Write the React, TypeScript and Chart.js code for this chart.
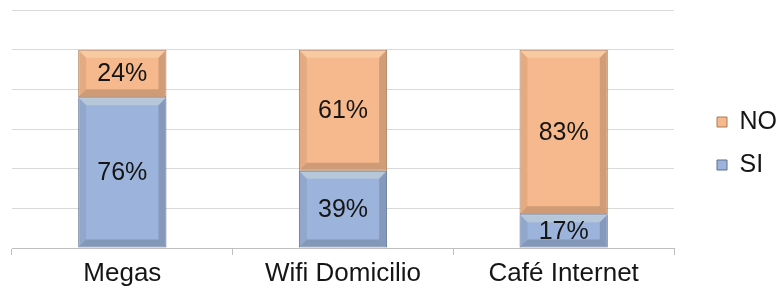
import React, { useEffect, useRef } from 'react';
import { Chart, registerables } from 'chart.js';

Chart.register(...registerables);

const categories = ['Megas', 'Wifi Domicilio', 'Café Internet'];
const siValues = [76, 39, 17];
const noValues = [24, 61, 83];
const seriesNames = ['SI', 'NO'];
const yTickValues = [0, 20, 40, 60, 80, 100, 120];

const FONT = '"Liberation Sans", Arial, sans-serif';

const bevelAndLabels = {
  id: 'bevelAndLabels',
  afterDatasetsDraw(chart: any) {
    const ctx = chart.ctx;
    ctx.save();
    chart.data.datasets.forEach((ds: any, di: number) => {
      const meta = chart.getDatasetMeta(di);
      meta.data.forEach((bar: any) => {
        const { x, y, base, width } = bar.getProps(['x', 'y', 'base', 'width'], true);
        const l = x - width / 2 + 1;
        const r = x + width / 2 - 1;
        const t = Math.min(y, base) + 1;
        const bt = Math.max(y, base) - 1;
        const b = Math.min(7, (bt - t) / 2);
        const poly = (pts: number[][], fill: string) => {
          ctx.beginPath();
          ctx.moveTo(pts[0][0], pts[0][1]);
          for (let k = 1; k < pts.length; k++) ctx.lineTo(pts[k][0], pts[k][1]);
          ctx.closePath();
          ctx.fillStyle = fill;
          ctx.fill();
        };
        poly([[l, t], [r, t], [r - b, t + b], [l + b, t + b]], 'rgba(255,248,215,0.28)');
        poly([[l, t], [l + b, t + b], [l + b, bt - b], [l, bt]], 'rgba(0,0,0,0.07)');
        poly([[r, t], [r, bt], [r - b, bt - b], [r - b, t + b]], 'rgba(0,0,0,0.15)');
        poly([[l, bt], [r, bt], [r - b, bt - b], [l + b, bt - b]], 'rgba(0,0,0,0.16)');
      });
    });
    ctx.font = `25px ${FONT}`;
    ctx.fillStyle = '#151515';
    ctx.textAlign = 'center';
    ctx.textBaseline = 'middle';
    chart.data.datasets.forEach((ds: any, di: number) => {
      const meta = chart.getDatasetMeta(di);
      meta.data.forEach((bar: any, i: number) => {
        const { x, y, base } = bar.getProps(['x', 'y', 'base'], true);
        ctx.fillText(`${ds.data[i]}%`, x, (y + base) / 2 + 1);
      });
    });
    ctx.restore();
  },
};

export default function App() {
  const ref = useRef<HTMLCanvasElement | null>(null);
  useEffect(() => {
    if (!ref.current) return;
    const chart = new Chart(ref.current, {
      type: 'bar',
      data: {
        labels: categories,
        datasets: [
          {
            label: seriesNames[0],
            data: siValues,
            backgroundColor: '#9cb4dc',
            borderColor: '#5b6f90',
            borderWidth: 1,
            borderSkipped: false,
          },
          {
            label: seriesNames[1],
            data: noValues,
            backgroundColor: '#f6b98d',
            borderColor: '#a97a55',
            borderWidth: 1,
            borderSkipped: false,
          },
        ],
      },
      options: {
        animation: false,
        responsive: true,
        maintainAspectRatio: false,
        layout: { padding: { left: 12, top: 10, right: -7, bottom: -5 } },
        datasets: { bar: { categoryPercentage: 1, barPercentage: 0.4 } },
        scales: {
          x: {
            stacked: true,
            grid: { drawOnChartArea: false, offset: true, tickLength: 7, color: '#bfbfbf' },
            border: { display: true, color: '#bfbfbf' },
            ticks: {
              font: { family: FONT, size: 26, lineHeight: '2px' },
              color: '#151515',
              padding: 18,
            },
          },
          y: {
            stacked: true,
            min: 0,
            max: 120,
            afterBuildTicks: (scale: any) => {
              scale.ticks = yTickValues.map((v) => ({ value: v }));
            },
            ticks: { display: false },
            grid: { color: '#d9d9d9', drawTicks: false },
            border: { display: false },
          },
          gap: {
            type: 'linear',
            position: 'right',
            display: true,
            grid: { display: false, drawTicks: false },
            ticks: { display: false },
            border: { display: false },
            afterFit: (scale: any) => {
              scale.width = 25;
            },
          },
        },
        plugins: {
          legend: {
            position: 'right',
            fullSize: false,
            reverse: true,
            title: { display: true, text: ' ', padding: 0, font: { size: 29, lineHeight: 1 } },
            labels: {
              boxWidth: 10,
              boxHeight: 10,
              padding: 18,
              color: '#151515',
              font: { family: FONT, size: 25 },
            },
          },
          tooltip: { enabled: false },
        },
      },
      plugins: [bevelAndLabels],
    });
    return () => chart.destroy();
  }, []);
  return (
    <div style={{ position: 'absolute', left: 0, top: 0, width: 780, height: 288 }}>
      <canvas ref={ref} />
    </div>
  );
}
